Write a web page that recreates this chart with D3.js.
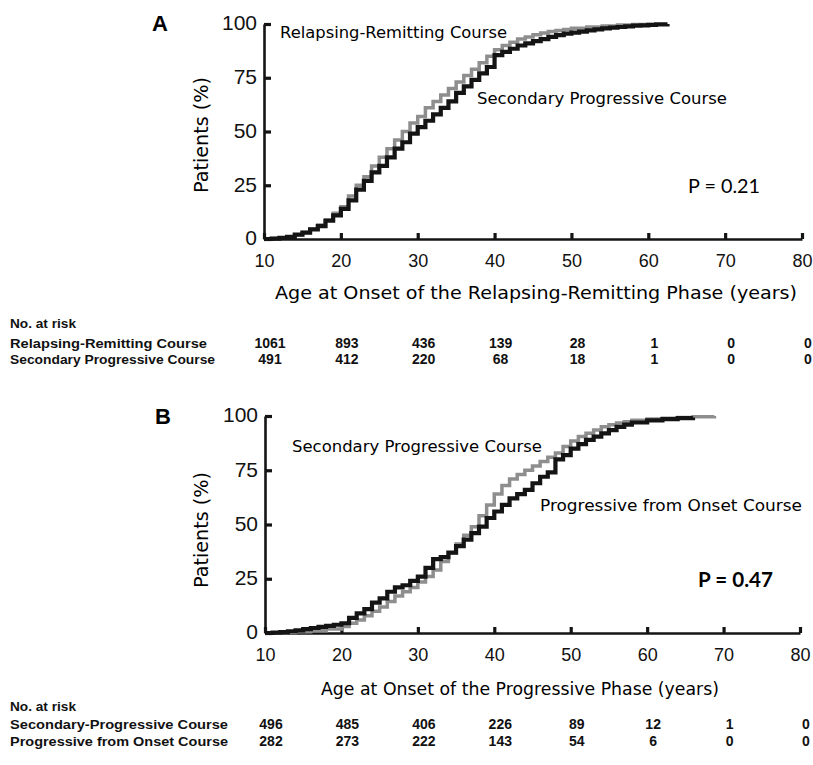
<!DOCTYPE html>
<html><head><meta charset="utf-8">
<script src="https://cdn.jsdelivr.net/npm/d3@7"></script>
<style>body{margin:0;background:#fff}svg{display:block}</style>
</head><body>
<svg id="chart" width="813" height="765"></svg>
<script>
// ---------- shared ticks ----------
const ageTicks = [10, 20, 30, 40, 50, 60, 70, 80];
const pctTicks = [0, 25, 50, 75, 100];

// ---------- Panel A : cumulative % by age at onset of RR phase ----------
const aRelapsingRemitting = [[10,0],[11,0.2],[12,0.5],[13,1],[14,2],[15,3],[16,4.5],[17,6.5],[18,9],[19,12],[20,15],[21,20],[22,25],[23,29],[24,34],[25,38],[26,42],[27,46],[28,50],[29,54],[30,57],[31,61],[32,64],[33,67],[34,70],[35,73],[36,76],[37,79],[38,82],[39,85],[40,88],[41,90],[42,91.5],[43,93],[44,94],[45,95],[46,95.8],[47,96.5],[48,97],[49,97.5],[50,98],[52,98.6],[54,99.1],[56,99.5],[58,99.8],[60.6,100]];
const aSecondaryProgressive = [[10,0],[11,0.2],[12,0.5],[13,1],[14,2],[15,3],[16,4.5],[17,6],[18,8.5],[19,11],[20,14],[21,18],[22,23],[23,27],[24,31],[25,34],[26,38],[27,42],[28,45],[29,49],[30,52],[31,55],[32,58],[33,61],[34,64],[35,68],[36,71],[37,74],[38,77],[39,80],[40,85.5],[41,87],[42,88.5],[43,90],[44,91],[45,92],[46,93],[47,94],[48,94.8],[49,95.5],[50,96],[51,96.5],[52,97],[53,97.5],[54,98],[55,98.3],[56,98.6],[57,98.9],[58,99.2],[59,99.4],[60,99.6],[61,99.8],[62.5,100]];
const aRiskRR = [1061, 893, 436, 139, 28, 1, 0, 0];
const aRiskSP = [491, 412, 220, 68, 18, 1, 0, 0];

// ---------- Panel B : cumulative % by age at onset of progressive phase ----------
const bSecondaryProgressive = [[10,0],[12,0.2],[14,0.6],[16,1],[18,1.8],[20,3],[21,4.5],[22,6],[23,8],[24,10],[25,12],[26,14.5],[27,17],[28,19],[29,21],[30,23.5],[31,26],[32,29],[33,33],[34,37],[35,41],[36,45],[37,49],[38,54],[39,59],[40,64],[41,68],[42,71],[43,73],[44,75],[45,77],[46,79],[47,81],[48,83],[49,86],[50,88.5],[51,90.5],[52,92],[53,93.5],[54,95],[55,96],[56,96.8],[57,97.4],[58,98],[60,98.6],[62,99],[64,99.3],[66,99.6],[68.8,100]];
const bProgressiveOnset = [[10,0],[11,0.2],[12,0.4],[13,0.8],[14,1.2],[15,1.8],[16,2.3],[17,2.8],[18,3.3],[19,3.8],[20,4.5],[21,7],[22,9],[23,11],[24,14],[25,16],[26,19],[27,21],[28,22],[29,24],[30,26],[31,30],[32,34],[33,35],[34,37],[35,40],[36,43],[37,46],[38,49],[39,53],[40,56],[41,59],[42,62],[43,64],[44,66],[45,69],[46,72],[47,74],[48,80],[49,82],[50,85],[51,87],[52,89],[53,90.5],[54,92],[55,93.5],[56,95],[57,96],[58,97],[60,98],[62,98.6],[64,99],[66,99.3]];
const bRiskSP = [496, 485, 406, 226, 89, 12, 1, 0];
const bRiskPO = [282, 273, 222, 143, 54, 6, 0, 0];

const GRAY = "#8e8e8e", BLACK = "#141414";
const SANS = "'Liberation Sans', Arial, sans-serif";
const HAND = "'DejaVu Sans', sans-serif";
const svg = d3.select("#chart");

function panel(cfg) {
  const x = d3.scaleLinear().domain([10, 80]).range(cfg.xr);
  const y = d3.scaleLinear().domain([0, 100]).range(cfg.yr);
  const g = svg.append("g");

  // axes
  const xa = g.append("g").attr("transform", `translate(0,${cfg.yr[0]})`)
    .call(d3.axisBottom(x).tickValues(ageTicks).tickSizeInner(-6).tickSizeOuter(0));
  xa.selectAll("text").attr("y", 28).attr("dy", null)
    .attr("font-family", SANS).attr("font-size", 18).attr("fill", "#111");
  const ya = g.append("g").attr("transform", `translate(${cfg.xr[0]},0)`)
    .call(d3.axisLeft(y).tickValues(pctTicks).tickSizeInner(-7).tickSizeOuter(0));
  ya.selectAll("text").attr("x", -7).attr("dy", "0.28em")
    .attr("font-family", SANS).attr("font-size", 21).attr("fill", "#111");
  g.selectAll(".domain").attr("stroke", BLACK).attr("stroke-width", 2.6);
  g.selectAll(".tick line").attr("stroke", BLACK).attr("stroke-width", 3.2);

  // step curves
  const line = d3.line().x(d => x(d[0])).y(d => y(d[1])).curve(d3.curveStepAfter);
  g.append("path").datum(cfg.gray).attr("d", line).attr("fill", "none")
    .attr("stroke", GRAY).attr("stroke-width", 3.5);
  g.append("path").datum(cfg.black).attr("d", line).attr("fill", "none")
    .attr("stroke", BLACK).attr("stroke-width", 4.2);

  // panel letter
  g.append("text").attr("x", cfg.letterX).attr("y", cfg.letterY).text(cfg.letter)
    .attr("font-family", SANS).attr("font-weight", "bold").attr("font-size", 22);
  // y title
  g.append("text").attr("transform", `translate(208,${cfg.yTitleY}) rotate(-90)`)
    .attr("text-anchor", "middle").attr("font-family", HAND).attr("font-size", 19)
    .attr("textLength", 116).attr("lengthAdjust", "spacingAndGlyphs").text("Patients (%)");
  // x title
  g.append("text").attr("x", cfg.xTitle.x).attr("y", cfg.xTitle.y).attr("text-anchor", "middle")
    .attr("font-family", HAND).attr("font-size", 17)
    .attr("textLength", cfg.xTitle.w).attr("lengthAdjust", "spacingAndGlyphs").text(cfg.xTitle.t);
  // curve annotations
  cfg.notes.forEach(n => g.append("text").attr("x", n.x).attr("y", n.y)
    .attr("font-family", HAND).attr("font-size", 15)
    .attr("textLength", n.w).attr("lengthAdjust", "spacingAndGlyphs").text(n.t));
  // P value
  g.append("text").attr("x", cfg.p.x).attr("y", cfg.p.y).text(cfg.p.t)
    .attr("font-family", "Lato, sans-serif").attr("font-size", 20)
    .attr("font-weight", cfg.p.bold ? "bold" : "normal")
    .attr("textLength", cfg.p.w).attr("lengthAdjust", "spacingAndGlyphs");

  // numbers at risk
  const t = g.append("g").attr("font-family", SANS).attr("font-weight", "bold")
    .attr("font-size", 13).attr("fill", "#111");
  t.append("text").attr("x", 10).attr("y", cfg.riskY[0]).text("No. at risk")
    .attr("textLength", 66).attr("lengthAdjust", "spacingAndGlyphs");
  cfg.rows.forEach((r, i) => {
    t.append("text").attr("x", 10).attr("y", cfg.riskY[i + 1]).text(r.label)
      .attr("textLength", r.w).attr("lengthAdjust", "spacingAndGlyphs");
    t.selectAll(null).data(r.values).join("text")
      .attr("x", (d, j) => x(ageTicks[j]) + 6).attr("y", cfg.riskY[i + 1])
      .attr("text-anchor", "middle").attr("font-size", 14)
      .text(d => d);
  });
}

panel({
  xr: [264, 802], yr: [239, 24], letter: "A", letterX: 152, letterY: 31, yTitleY: 135,
  gray: aRelapsingRemitting, black: aSecondaryProgressive,
  xTitle: { x: 536, y: 299, w: 522, t: "Age at Onset of the Relapsing-Remitting Phase (years)" },
  notes: [
    { x: 280, y: 38, w: 227, t: "Relapsing-Remitting Course" },
    { x: 477, y: 104, w: 250, t: "Secondary Progressive Course" }
  ],
  p: { x: 688, y: 193, w: 72, t: "P = 0.21", bold: false },
  riskY: [328, 348, 364],
  rows: [
    { label: "Relapsing-Remitting Course", w: 197, values: aRiskRR },
    { label: "Secondary Progressive Course", w: 205, values: aRiskSP }
  ]
});

panel({
  xr: [265, 800], yr: [633, 416], letter: "B", letterX: 155, letterY: 424, yTitleY: 530,
  gray: bSecondaryProgressive, black: bProgressiveOnset,
  xTitle: { x: 520, y: 695, w: 398, t: "Age at Onset of the Progressive Phase (years)" },
  notes: [
    { x: 292, y: 452, w: 250, t: "Secondary Progressive Course" },
    { x: 540, y: 511, w: 262, t: "Progressive from Onset Course" }
  ],
  p: { x: 698, y: 587, w: 75, t: "P = 0.47", bold: true },
  riskY: [711, 729, 746],
  rows: [
    { label: "Secondary-Progressive Course", w: 218, values: bRiskSP },
    { label: "Progressive from Onset Course", w: 218, values: bRiskPO }
  ]
});
</script>
</body></html>
